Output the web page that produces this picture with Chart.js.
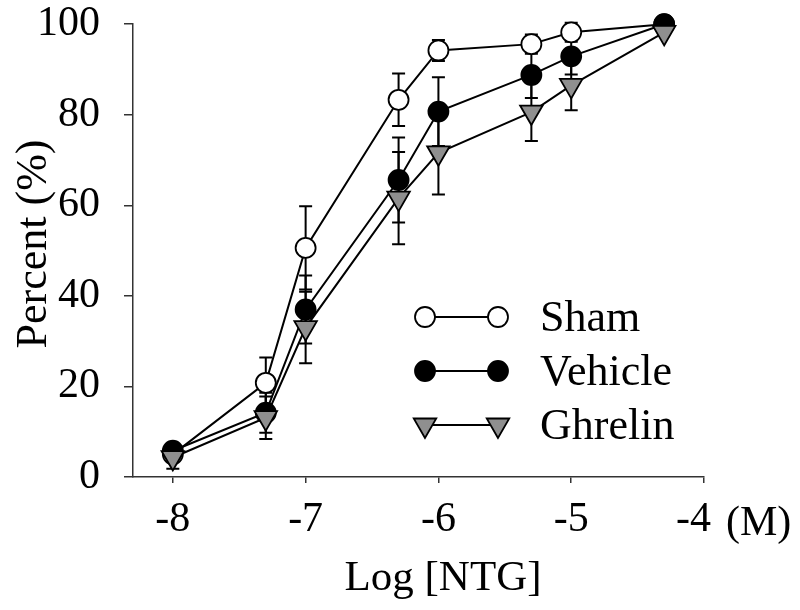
<!DOCTYPE html>
<html><head><meta charset="utf-8">
<script src="https://cdn.jsdelivr.net/npm/chart.js@4.4.1/dist/chart.umd.min.js"></script>
<style>html,body{margin:0;padding:0;background:#fff}#wrap{width:800px;height:610px}</style>
</head><body><div id="wrap"><canvas id="c" width="800" height="610"></canvas></div>
<script>
// ---- data ----
const logDose    = [-8, -7.3, -7, -6.3, -6, -5.3, -5, -4.3];
const shamVals   = [5.0, 20.8, 50.6, 83.3, 94.2, 95.6, 98.2, 100];
const shamErr    = [1.5, 5.6, 9.2, 5.8, 2.3, 2.1, 2.1, 0];
const vehVals    = [5.8, 14.2, 37.0, 65.6, 80.7, 88.8, 92.9, 100];
const vehErr     = [1.5, 4.4, 7.5, 9.4, 7.6, 5.1, 4.0, 0];
const ghrVals    = [4.3, 13.1, 33.0, 61.6, 71.6, 80.6, 86.5, 98.2];
const ghrErr     = [2.5, 4.7, 7.9, 10.2, 9.2, 6.4, 5.5, 0];
const seriesNames = ['Sham', 'Vehicle', 'Ghrelin'];
const xTicks = [-8, -7, -6, -5, -4];
const yTicks = [0, 20, 40, 60, 80, 100];
const xTitle = 'Log [NTG]';
const yTitle = 'Percent (%)';
const xUnit  = '(M)';

const FONT = '"Liberation Serif", "Times New Roman", serif';
const GRAY = '#8f8f8f';

const styles = [
  {pointStyle: 'circle', radius: 10, rotation: 0, bg: '#ffffff'},
  {pointStyle: 'circle', radius: 10, rotation: 0, bg: '#000000'},
  {pointStyle: 'triangle', radius: 13, rotation: 180, bg: GRAY}
];
const valuesList = [shamVals, vehVals, ghrVals];
const errList = [shamErr, vehErr, ghrErr];

function mkDataset(k, order) {
  const st = styles[k];
  return {
    label: seriesNames[k],
    data: logDose.map((x, i) => ({x: x, y: valuesList[k][i]})),
    errors: errList[k],
    borderColor: '#000',
    borderWidth: 2,
    backgroundColor: st.bg,
    pointStyle: st.pointStyle,
    pointRadius: st.radius,
    pointHoverRadius: st.radius,
    pointRotation: st.rotation,
    pointBackgroundColor: st.bg,
    pointBorderColor: '#000',
    pointBorderWidth: 1.8,
    tension: 0,
    fill: false,
    clip: false,
    order: order
  };
}

const errorBarPlugin = {
  id: 'errorBars',
  beforeDatasetsDraw(chart) {
    const ctx = chart.ctx;
    const xs = chart.scales.x, ys = chart.scales.y;
    ctx.save();
    ctx.strokeStyle = '#000';
    ctx.lineWidth = 2;
    chart.data.datasets.forEach((ds) => {
      ds.data.forEach((p, i) => {
        const e = ds.errors[i];
        if (!e) return;
        const px = xs.getPixelForValue(p.x);
        const yt = ys.getPixelForValue(p.y + e);
        const yb = ys.getPixelForValue(p.y - e);
        const cw = 6.5;
        ctx.beginPath();
        ctx.moveTo(px, yt); ctx.lineTo(px, yb);
        ctx.moveTo(px - cw, yt); ctx.lineTo(px + cw, yt);
        ctx.moveTo(px - cw, yb); ctx.lineTo(px + cw, yb);
        ctx.stroke();
      });
    });
    ctx.restore();
  }
};

const annotPlugin = {
  id: 'annot',
  afterDraw(chart) {
    const ctx = chart.ctx;
    const xs = chart.scales.x;
    ctx.save();
    ctx.fillStyle = '#000';
    // x unit after last tick label
    ctx.font = '42px ' + FONT;
    ctx.textAlign = 'left';
    ctx.textBaseline = 'alphabetic';
    ctx.fillText(xUnit, xs.getPixelForValue(-4) + 22, 535);
    // x title
    ctx.font = '43px ' + FONT;
    ctx.textAlign = 'center';
    ctx.fillText(xTitle, 443, 590);
    // y title
    ctx.save();
    ctx.translate(46, 244);
    ctx.rotate(-Math.PI / 2);
    ctx.textAlign = 'center';
    ctx.textBaseline = 'alphabetic';
    ctx.font = '44px ' + FONT;
    ctx.fillText(yTitle, 0, 0);
    ctx.restore();
    // legend
    const rows = [317, 371, 425];
    const x1 = 425, x2 = 498;
    for (let k = 0; k < 3; k++) {
      const y = rows[k];
      ctx.strokeStyle = '#000';
      ctx.lineWidth = 2;
      ctx.beginPath(); ctx.moveTo(x1, y); ctx.lineTo(x2, y); ctx.stroke();
      const st = styles[k];
      ctx.fillStyle = st.bg;
      ctx.strokeStyle = '#000';
      ctx.lineWidth = 1.8;
      const o = {pointStyle: st.pointStyle, radius: st.radius, rotation: st.rotation, borderWidth: 1.8};
      Chart.helpers.drawPoint(ctx, o, x1, y);
      Chart.helpers.drawPoint(ctx, o, x2, y);
      ctx.fillStyle = '#000';
      ctx.font = '44px ' + FONT;
      ctx.textAlign = 'left';
      ctx.textBaseline = 'middle';
      ctx.fillText(seriesNames[k], 540, y + 2);
    }
    ctx.restore();
  }
};

new Chart(document.getElementById('c'), {
  type: 'line',
  data: { datasets: [mkDataset(0, 3), mkDataset(1, 2), mkDataset(2, 1)] },
  options: {
    responsive: false,
    animation: false,
    events: [],
    layout: { padding: { top: 0, right: 96, left: 0, bottom: 0 } },
    plugins: { legend: { display: false }, tooltip: { enabled: false } },
    scales: {
      x: {
        type: 'linear',
        min: -8.3, max: -4,
        afterBuildTicks: s => { s.ticks = xTicks.map(v => ({value: v})); },
        afterFit: s => { s.height = 133; },
        ticks: { font: { family: FONT, size: 42 }, color: '#000', padding: 12, maxRotation: 0,
                 callback: v => (v === -4 ? '-4\u00a0\u00a0' : String(v)) },
        grid: { display: true, drawOnChartArea: false, drawTicks: true, tickLength: 6, color: '#333', lineWidth: 1.5 },
        border: { display: true, color: '#333', width: 1.5 }
      },
      y: {
        type: 'linear',
        min: 0, max: 100,
        afterBuildTicks: s => { s.ticks = yTicks.map(v => ({value: v})); },
        afterFit: s => { s.width = 133; },
        ticks: { font: { family: FONT, size: 42, lineHeight: 0.01 }, color: '#000', padding: 24 },
        grid: { display: true, drawOnChartArea: false, drawTicks: true, tickLength: 9, color: '#333', lineWidth: 1.5 },
        border: { display: true, color: '#333', width: 1.5 }
      }
    }
  },
  plugins: [errorBarPlugin, annotPlugin]
});
</script>
</body></html>
